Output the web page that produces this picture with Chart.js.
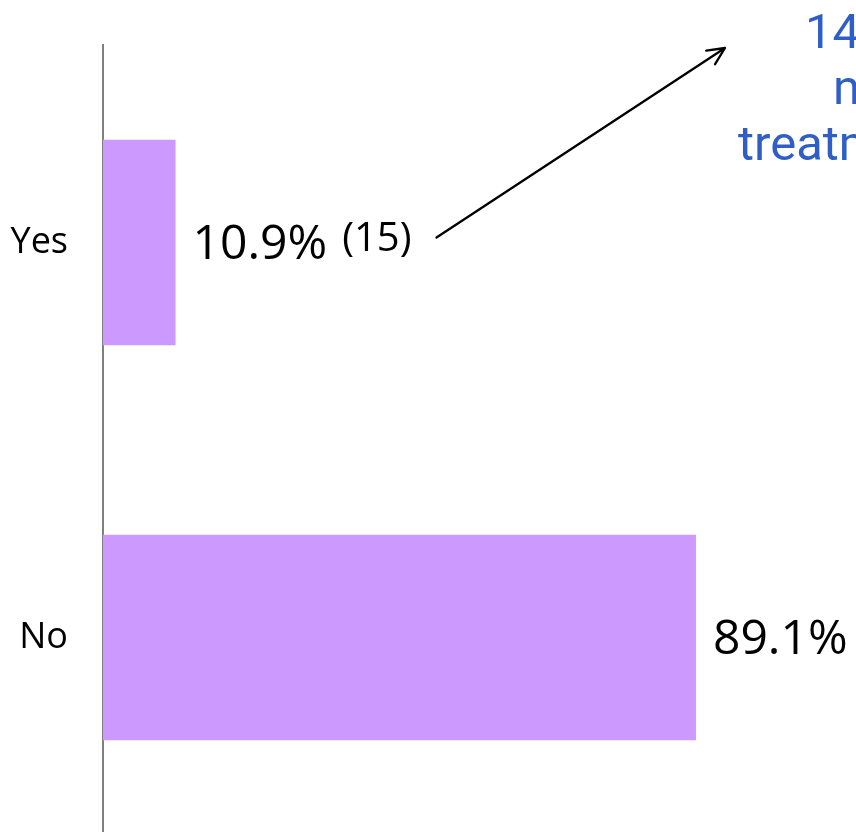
<!DOCTYPE html>
<html>
<head>
<meta charset="utf-8">
<script src="https://cdn.jsdelivr.net/npm/chart.js@4.4.0/dist/chart.umd.min.js"></script>
<style>
    html, body { margin: 0; padding: 0; background: #fff; overflow: hidden; }
    canvas { display: block; }
</style>
</head>
<body>
<canvas id="treatChart" width="856" height="836"></canvas>
<script>
// data
const categories = ['Yes', 'No'];
const percentValues = [10.9, 89.1];
const countLabels = ['(15)', ''];
const noteLines = ['14 of 15', 'needed', 'treatment'];

const barColor = '#CC99FF';
const noteColor = '#2F5FC6';

// value labels next to each bar, plus the arrow note
const labelPlugin = {
    id: 'barLabels',
    afterDatasetsDraw(chart) {
        let ctx = chart.ctx;
        let meta = chart.getDatasetMeta(0);
        ctx.save();
        let arrowStart = null;
        meta.data.forEach((bar, i) => {
            let x = bar.x + 17;
            let y = bar.y + 3;
            ctx.fillStyle = '#000';
            ctx.textBaseline = 'middle';
            ctx.textAlign = 'left';
            ctx.font = '48px "Open Sans"';
            let txt = percentValues[i] + '%';
            ctx.fillText(txt, x, y);
            let w = ctx.measureText(txt).width;
            if (countLabels[i]) {
                ctx.font = '40px "Open Sans"';
                ctx.fillText(countLabels[i], x + w + 15, y - 6);
                let w2 = ctx.measureText(countLabels[i]).width;
                arrowStart = {x: x + w + 15 + w2 + 25, y: bar.y - 5};
            }
        });

        // note text, centred lines, cut by the canvas edge
        ctx.fillStyle = noteColor;
        ctx.font = '49px Roboto';
        ctx.textBaseline = 'alphabetic';
        ctx.textAlign = 'left';
        let noteX = [805, 833, 738];
        noteLines.forEach((line, i) => {
            ctx.fillText(line, noteX[i], 48 + i * 56);
        });

        // arrow
        if (arrowStart) {
            let ex = 725, ey = 48;
            ctx.strokeStyle = '#000';
            ctx.lineWidth = 2.3;
            ctx.lineCap = 'round';
            ctx.lineJoin = 'round';
            ctx.beginPath();
            ctx.moveTo(arrowStart.x, arrowStart.y);
            ctx.lineTo(ex, ey);
            let ang = Math.atan2(ey - arrowStart.y, ex - arrowStart.x);
            let len = 19;
            ctx.moveTo(ex - len * Math.cos(ang - 0.44), ey - len * Math.sin(ang - 0.44));
            ctx.lineTo(ex, ey);
            ctx.lineTo(ex - len * Math.cos(ang + 0.44), ey - len * Math.sin(ang + 0.44));
            ctx.stroke();
        }
        ctx.restore();
    }
};

new Chart(document.getElementById('treatChart'), {
    type: 'bar',
    data: {
        labels: categories,
        datasets: [{
            data: percentValues,
            backgroundColor: barColor,
            borderWidth: 0,
            categoryPercentage: 1,
            barPercentage: 0.52
        }]
    },
    options: {
        indexAxis: 'y',
        responsive: false,
        animation: false,
        devicePixelRatio: 1,
        layout: {padding: {top: 45, right: 87.5, bottom: 1, left: 0}},
        scales: {
            x: {
                display: false,
                min: 0,
                max: 100
            },
            y: {
                grid: {display: false},
                border: {display: true, color: '#808080', width: 2},
                ticks: {
                    color: '#000',
                    padding: 27,
                    font: {family: '"Open Sans"', size: 36}
                },
                afterFit(axis) {
                    axis.width = 103;
                    axis.paddingTop = 0;
                    axis.paddingBottom = 0;
                }
            }
        },
        plugins: {
            legend: {display: false},
            tooltip: {enabled: false}
        }
    },
    plugins: [labelPlugin]
});
</script>
</body>
</html>
